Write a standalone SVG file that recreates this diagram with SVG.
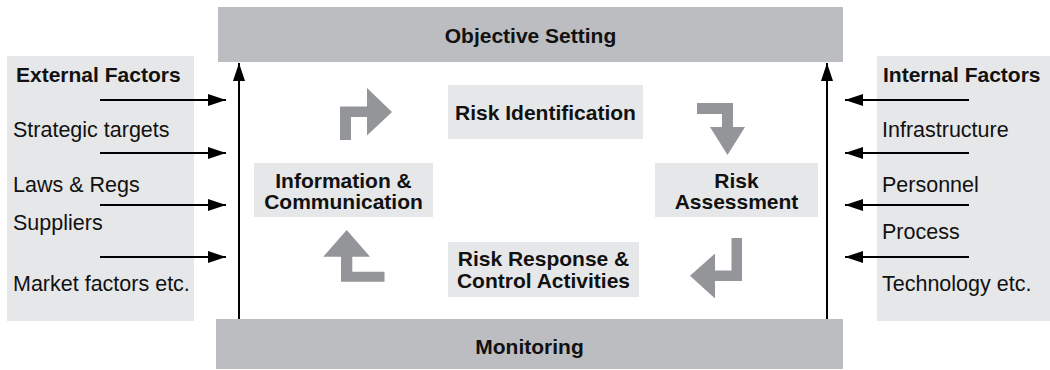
<svg xmlns="http://www.w3.org/2000/svg" width="1050" height="370" viewBox="0 0 1050 370">
<style>
.band{fill:#bcbdc0}
.panel{fill:#e6e7e8}
.box{fill:#e6e7e8}
.t{font-family:"Liberation Sans",Arial,Helvetica,sans-serif;font-size:21.5px;fill:#111}
.b{font-weight:bold;font-size:21px}
.c{text-anchor:middle}
.ln{stroke:#000;stroke-width:2;fill:none}
.turn{fill:#939598}
</style>
<defs>
<marker id="ah" markerWidth="18" markerHeight="12" refX="18" refY="6" orient="auto" markerUnits="userSpaceOnUse">
<path d="M0,0 L18,6 L0,12 z" fill="#000"/>
</marker>
</defs>
<rect width="1050" height="370" fill="#fff"/>

<g id="external-factors">
<rect class="panel" x="7" y="56" width="187" height="265"/>
<text class="t b" x="16" y="82">External Factors</text>
<text class="t" x="13" y="137">Strategic targets</text>
<text class="t" x="13" y="192">Laws &amp; Regs</text>
<text class="t" x="13" y="230">Suppliers</text>
<text class="t" x="13" y="291">Market factors etc.</text>
</g>

<g id="internal-factors">
<rect class="panel" x="877" y="56" width="173" height="265"/>
<text class="t b" x="883" y="82">Internal Factors</text>
<text class="t" x="882" y="137">Infrastructure</text>
<text class="t" x="882" y="192">Personnel</text>
<text class="t" x="882" y="239">Process</text>
<text class="t" x="882" y="291">Technology etc.</text>
</g>

<g id="objective-setting">
<rect class="band" x="218" y="7" width="625" height="55"/>
<text class="t b c" x="530.5" y="43">Objective Setting</text>
</g>

<g id="monitoring">
<rect class="band" x="216" y="319" width="627" height="50"/>
<text class="t b c" x="529.5" y="354">Monitoring</text>
</g>

<g id="risk-identification">
<rect class="box" x="448" y="85" width="195" height="54"/>
<text class="t b c" x="545.5" y="120">Risk Identification</text>
</g>

<g id="information-communication">
<rect class="box" x="254" y="163" width="179" height="54"/>
<text class="t b c" x="343.5" y="188">Information &amp;</text>
<text class="t b c" x="343.5" y="209">Communication</text>
</g>

<g id="risk-assessment">
<rect class="box" x="655" y="163" width="163" height="54"/>
<text class="t b c" x="736.5" y="188">Risk</text>
<text class="t b c" x="736.5" y="209">Assessment</text>
</g>

<g id="risk-response">
<rect class="box" x="448" y="242" width="191" height="55"/>
<text class="t b c" x="543.5" y="266">Risk Response &amp;</text>
<text class="t b c" x="543.5" y="288">Control Activities</text>
</g>

<g id="cycle-arrows">
<polygon class="turn" points="340,140 340,106.5 367,106.5 367,88 392,112 367,135.5 367,117 351,117 351,140"/>
<polygon class="turn" points="697,103 733,103 733,127 745,127 727.5,155 710,127 722,127 722,114 697,114"/>
<polygon class="turn" points="742,238 742,281 715,281 715,298.5 690,275.8 715,253.5 715,270.5 731.5,270.5 731.5,238"/>
<polygon class="turn" points="384.5,281.7 341,281.7 341,256.7 323.3,256.7 346.7,230 370,256.7 352.3,256.7 352.3,271.7 384.5,271.7"/>
</g>

<g id="connectors">
<line class="ln" x1="239" y1="319" x2="239" y2="63" marker-end="url(#ah)"/>
<line class="ln" x1="827" y1="319" x2="827" y2="63" marker-end="url(#ah)"/>
<line class="ln" x1="100" y1="100" x2="226" y2="100" marker-end="url(#ah)"/>
<line class="ln" x1="100" y1="153" x2="226" y2="153" marker-end="url(#ah)"/>
<line class="ln" x1="100" y1="205" x2="226" y2="205" marker-end="url(#ah)"/>
<line class="ln" x1="100" y1="257" x2="226" y2="257" marker-end="url(#ah)"/>
<line class="ln" x1="969" y1="100" x2="845" y2="100" marker-end="url(#ah)"/>
<line class="ln" x1="969" y1="153" x2="845" y2="153" marker-end="url(#ah)"/>
<line class="ln" x1="969" y1="205" x2="845" y2="205" marker-end="url(#ah)"/>
<line class="ln" x1="969" y1="257" x2="845" y2="257" marker-end="url(#ah)"/>
</g>
</svg>
